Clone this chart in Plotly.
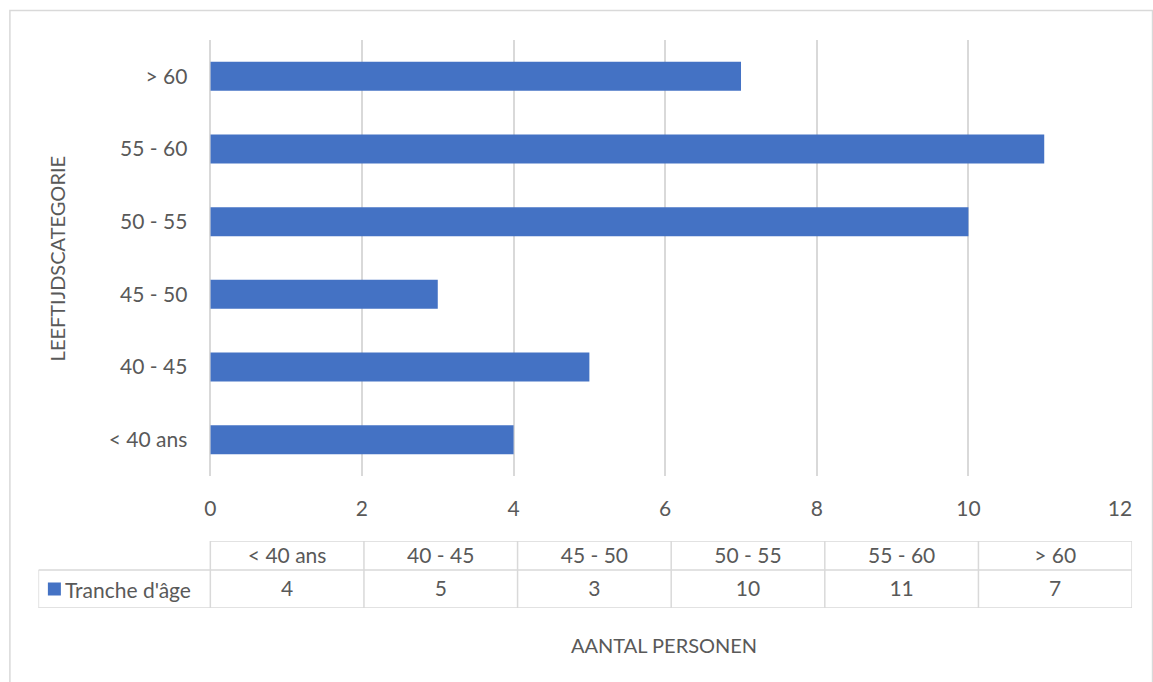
import plotly.graph_objects as go

# ---- data ----
categories = ["< 40 ans", "40 - 45", "45 - 50", "50 - 55", "55 - 60", "> 60"]
values = [4, 5, 3, 10, 11, 7]
series_name = "Tranche d'âge"
x_title = "AANTAL PERSONEN"
y_title = "LEEFTIJDSCATEGORIE"
x_ticks = [0, 2, 4, 6, 8, 10, 12]

# ---- style ----
W, H = 1153, 682
BAR = "#4472c4"
GRID = "#d9d9d9"
TXT = "#595959"
FONT = "Lato"
FS = 21
FT = 20

# horizontal correction for the capture pipeline (observed offset/scale)
SX_A, SX_B = 5.6, 0.9847

def px_x(p):
    return ((p - SX_A) / SX_B) / W

def px_y(p):
    return 1 - p / H

fig = go.Figure()

fig.add_trace(go.Bar(
    y=categories, x=values, orientation="h",
    marker=dict(color=BAR, line=dict(width=0)),
    name=series_name, showlegend=False, hoverinfo="x+y",
    xaxis="x", yaxis="y",
))

# ---- data table (below plot) ----
plot_l, plot_r = 210, 1120
tab_l, tab_r = 38, 1132
ncol = len(categories)
col_w = (tab_r - plot_l) / ncol
leg0 = -(plot_l - tab_l) / col_w
h_val, h_head = 38, 29

fig.add_trace(go.Scatter(
    x=[i + 0.5 for i in range(ncol)], y=[h_val + h_head / 2 - 2.5] * ncol,
    text=categories, mode="text", textposition="middle center",
    textfont=dict(family=FONT, size=FS, color=TXT),
    showlegend=False, hoverinfo="skip", xaxis="x2", yaxis="y2",
))
fig.add_trace(go.Scatter(
    x=[i + 0.5 for i in range(ncol)], y=[h_val / 2 - 2] * ncol,
    text=[str(v) for v in values], mode="text", textposition="middle center",
    textfont=dict(family=FONT, size=FS, color=TXT),
    showlegend=False, hoverinfo="skip", xaxis="x2", yaxis="y2",
))
fig.add_trace(go.Scatter(
    x=[leg0 + 16 / col_w], y=[h_val / 2], mode="markers",
    marker=dict(symbol="square", size=13, color=BAR),
    showlegend=False, hoverinfo="skip", xaxis="x2", yaxis="y2",
))

shapes = []
lw = 1.5
shapes.append(dict(type="line", xref="x2", yref="y2", x0=0, x1=ncol, y0=h_val + h_head, y1=h_val + h_head, line=dict(color=GRID, width=lw)))
for yy in (0, h_val):
    shapes.append(dict(type="line", xref="x2", yref="y2", x0=leg0, x1=ncol, y0=yy, y1=yy, line=dict(color=GRID, width=lw)))
for i in range(ncol + 1):
    shapes.append(dict(type="line", xref="x2", yref="y2", x0=i, x1=i, y0=0, y1=h_val + h_head, line=dict(color=GRID, width=lw)))
shapes.append(dict(type="line", xref="x2", yref="y2", x0=leg0, x1=leg0, y0=0, y1=h_val, line=dict(color=GRID, width=lw)))
shapes.append(dict(type="rect", xref="paper", yref="paper", x0=px_x(9.5), x1=px_x(1152.5), y0=-0.02, y1=px_y(10.5), line=dict(color=GRID, width=lw), fillcolor="rgba(0,0,0,0)", layer="below"))

annotations = [
    dict(text=series_name, xref="x2", yref="y2", x=leg0 + 25 / col_w, y=h_val / 2 - 0.5, xanchor="left", yanchor="middle", showarrow=False, font=dict(family=FONT, size=FS, color=TXT)),
    dict(text=x_title, xref="paper", yref="paper", x=px_x(664), y=px_y(645), xanchor="center", yanchor="middle", showarrow=False, font=dict(family=FONT, size=FT, color=TXT)),
    dict(text=y_title, xref="paper", yref="paper", x=px_x(57), y=px_y(259), xanchor="center", yanchor="middle", textangle=-90, showarrow=False, font=dict(family=FONT, size=FT, color=TXT)),
]

fig.update_layout(
    width=W, height=H,
    margin=dict(l=0, r=0, t=0, b=0),
    paper_bgcolor="white", plot_bgcolor="white",
    font=dict(family=FONT, size=FS, color=TXT),
    bargap=0.6,
    showlegend=False,
    shapes=shapes,
    annotations=annotations,
    xaxis=dict(
        domain=[px_x(plot_l), px_x(plot_r)], range=[0, 12],
        tickvals=x_ticks, ticktext=[str(t) for t in x_ticks],
        showgrid=True, gridcolor=GRID, gridwidth=lw,
        zeroline=True, zerolinecolor=GRID, zerolinewidth=lw,
        showline=False, ticks="", ticklabelstandoff=18,
        tickfont=dict(family=FONT, size=FS, color=TXT),
        fixedrange=True,
    ),
    yaxis=dict(
        domain=[px_y(476), px_y(40)], type="category",
        categoryorder="array", categoryarray=categories,
        showgrid=False, zeroline=False, showline=False, ticks="",
        ticklabelstandoff=22,
        tickfont=dict(family=FONT, size=FS, color=TXT),
        fixedrange=True,
    ),
    xaxis2=dict(domain=[px_x(tab_l), px_x(tab_r)], range=[leg0, ncol], visible=False, fixedrange=True),
    yaxis2=dict(domain=[px_y(608), px_y(541)], range=[0, h_val + h_head], visible=False, fixedrange=True),
)

fig.write_html(
    "out.html",
    config={"displayModeBar": False},
    post_script="document.body.style.margin='0px';document.body.style.overflow='hidden';",
)
